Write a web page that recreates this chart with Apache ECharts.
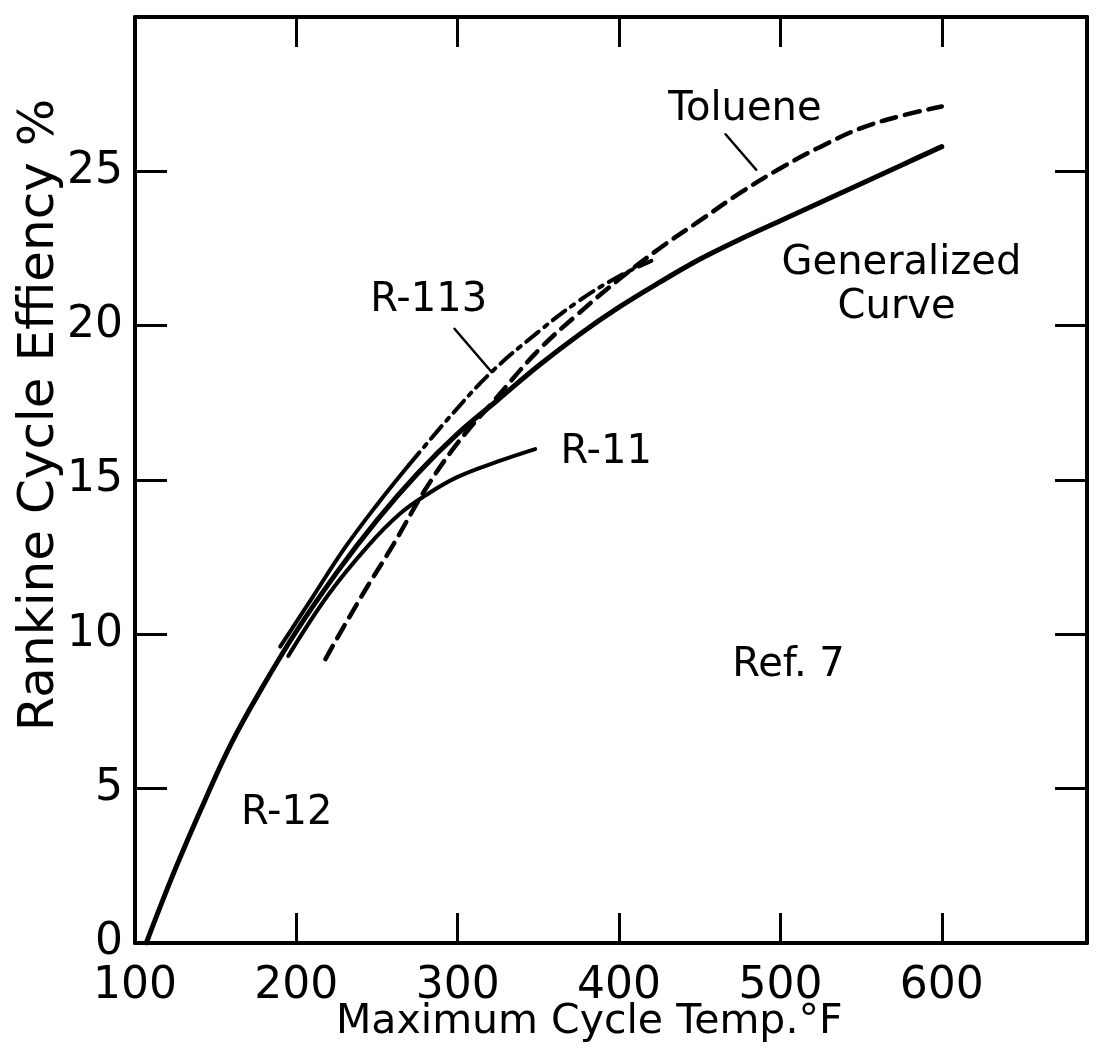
<!DOCTYPE html>
<html>
<head>
<meta charset="utf-8">
<script src="https://cdn.jsdelivr.net/npm/echarts@6/dist/echarts.min.js"></script>
<style>
html, body { margin: 0; padding: 0; background: #fff; }
#chart { width: 1099px; height: 1057px; }
</style>
</head>
<body>
<div id="chart"></div>
<script>
// x = maximum cycle temp (F), y = Rankine cycle efficiency (%)
var generalized = [[107, 0], [125, 2.4], [144, 4.7], [160, 6.5], [178, 8.2], [200, 10.1], [225, 12.0], [250, 13.7], [275, 15.2], [300, 16.5], [325, 17.6], [350, 18.7], [375, 19.7], [400, 20.6], [425, 21.4], [450, 22.15], [475, 22.8], [500, 23.4], [525, 24.0], [550, 24.6], [575, 25.2], [600, 25.8]];
var toluene = [[218, 9.2], [240, 11.2], [260, 12.9], [280, 14.7], [300, 16.2], [323, 17.6], [350, 19.2], [375, 20.4], [400, 21.5], [425, 22.5], [450, 23.4], [475, 24.3], [500, 25.1], [525, 25.8], [550, 26.4], [575, 26.8], [600, 27.1]];
var r113Solid = [[190, 9.6], [210, 11.2], [230, 12.8], [250, 14.2], [270, 15.5]];
var r113Dashed = [[270, 15.5], [296, 17.1], [321, 18.5], [350, 19.8], [375, 20.8], [400, 21.6], [420, 22.1]];
var r11 = [[195, 9.3], [220, 11.3], [245, 12.9], [264, 13.9], [280, 14.5], [300, 15.1], [325, 15.6], [348, 16.0]];

var xTicks = [100, 200, 300, 400, 500, 600];
var yTicks = [0, 5, 10, 15, 20, 25];

// text labels on the plot (data coords)
var notes = [
    { name: 'Toluene', value: [478, 27.0] },
    { name: 'Generalized', value: [575, 22.0] },
    { name: 'Curve', value: [572, 20.6] },
    { name: 'R-113', value: [282, 20.8] },
    { name: 'R-11', value: [392, 15.9] },
    { name: 'R-12', value: [194, 4.2] },
    { name: 'Ref. 7', value: [505, 9.0] }
];
var tolueneLeader = [[466, 26.2], [485, 25.05]];
var r113Leader = [[298, 19.9], [321, 18.5]];

var FONT = 'DejaVu Sans';

var myChart = echarts.init(document.getElementById('chart'));

function axisX(pos, showLabel) {
    return {
        type: 'value',
        position: pos,
        min: 100,
        max: 690,
        interval: 100,
        axisLine: { show: true, onZero: false, lineStyle: { color: '#000', width: 4 } },
        axisTick: {
            show: true, inside: true, length: 30,
            customValues: xTicks.slice(1),
            lineStyle: { color: '#000', width: 3 }
        },
        axisLabel: {
            show: showLabel,
            color: '#000',
            fontFamily: FONT,
            fontSize: 44,
            margin: 22,
            customValues: xTicks
        },
        splitLine: { show: false }
    };
}

function axisY(pos, showLabel) {
    return {
        type: 'value',
        position: pos,
        min: 0,
        max: 30,
        interval: 5,
        axisLine: { show: true, onZero: false, lineStyle: { color: '#000', width: 4 } },
        axisTick: {
            show: true, inside: true, length: 32,
            customValues: yTicks.slice(1),
            lineStyle: { color: '#000', width: 3 }
        },
        axisLabel: {
            show: showLabel,
            color: '#000',
            fontFamily: FONT,
            fontSize: 44,
            margin: 12,
            customValues: yTicks
        },
        splitLine: { show: false }
    };
}

function curve(name, data, type, width) {
    return {
        name: name,
        type: 'line',
        data: data,
        smooth: 0.4,
        symbol: 'none',
        silent: true,
        lineStyle: { color: '#000', width: width || 4.5, type: type || 'solid', cap: 'round' },
        z: 3
    };
}

var option = {
    backgroundColor: '#fff',
    animation: false,
    grid: { left: 135, right: 12, top: 17, bottom: 114, containLabel: false },
    xAxis: [axisX('bottom', true), axisX('top', false)],
    yAxis: [axisY('left', true), axisY('right', false)],
    series: [
        curve('Generalized Curve', generalized, 'solid', 5),
        curve('Toluene', toluene, [15, 9], 4.5),
        curve('R-113', r113Solid, 'solid', 4),
        curve('R-113', r113Dashed, [16, 7, 4, 7], 4),
        curve('R-11', r11, 'solid', 4),
        curve('leader', tolueneLeader, 'solid', 2.5),
        curve('leader', r113Leader, 'solid', 2.5)
    ]
};

myChart.setOption(option);

// axis titles and curve labels as text, placed through the axes
var texts = [
    {
        type: 'text',
        left: 336,
        top: 1002,
        style: { text: 'Maximum Cycle Temp.°F', font: '41px "DejaVu Sans"', fill: '#000' }
    },
    {
        type: 'text',
        x: 40,
        y: 415,
        rotation: Math.PI / 2,
        style: { text: 'Rankine Cycle Effiency %', font: '50px "DejaVu Sans"', fill: '#000', align: 'center', verticalAlign: 'middle' }
    }
];
notes.forEach(function (n) {
    var p = myChart.convertToPixel({ gridIndex: 0 }, n.value);
    texts.push({
        type: 'text',
        x: p[0],
        y: p[1],
        style: { text: n.name, font: '40px "DejaVu Sans"', fill: '#000', align: 'center', verticalAlign: 'middle' }
    });
});
myChart.setOption({ graphic: texts });
</script>
</body>
</html>
